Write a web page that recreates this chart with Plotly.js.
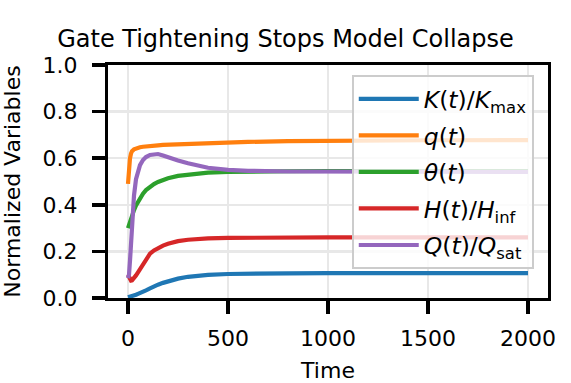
<!DOCTYPE html>
<html>
<head>
<meta charset="utf-8">
<script src="https://cdn.plot.ly/plotly-3.0.1.min.js"></script>
<style>html,body{margin:0;padding:0;background:#fff;}#chart{width:571px;height:383px;}</style>
</head>
<body>
<div id="chart"></div>
<script>
const time = [0, 5, 10, 15, 20, 30, 40, 50, 60, 75, 90, 110, 130, 150, 175, 200, 250, 300, 350, 400, 500, 600, 800, 1000, 1250, 1500, 2000];
const K_norm = [0.003, 0.004, 0.005, 0.007, 0.008, 0.011, 0.014, 0.018, 0.021, 0.027, 0.033, 0.041, 0.050, 0.057, 0.065, 0.072, 0.083, 0.091, 0.096, 0.099, 0.103, 0.105, 0.106, 0.107, 0.107, 0.107, 0.107];
const q_vals = [0.49, 0.56, 0.60, 0.62, 0.63, 0.638, 0.642, 0.645, 0.647, 0.649, 0.651, 0.653, 0.654, 0.655, 0.657, 0.658, 0.660, 0.662, 0.664, 0.666, 0.668, 0.670, 0.673, 0.675, 0.676, 0.677, 0.678];
const theta_vals = [0.30, 0.315, 0.33, 0.343, 0.355, 0.377, 0.397, 0.414, 0.43, 0.448, 0.463, 0.478, 0.489, 0.498, 0.507, 0.514, 0.524, 0.530, 0.535, 0.538, 0.541, 0.543, 0.544, 0.545, 0.545, 0.545, 0.545];
const H_norm = [0.10, 0.088, 0.079, 0.075, 0.076, 0.085, 0.097, 0.11, 0.123, 0.143, 0.163, 0.19, 0.204, 0.214, 0.225, 0.233, 0.244, 0.25, 0.254, 0.256, 0.258, 0.259, 0.26, 0.26, 0.26, 0.26, 0.26];
const Q_norm = [0.085, 0.10, 0.16, 0.25, 0.32, 0.44, 0.51, 0.545, 0.57, 0.592, 0.605, 0.614, 0.618, 0.618, 0.612, 0.604, 0.59, 0.578, 0.567, 0.559, 0.55, 0.546, 0.543, 0.542, 0.541, 0.541, 0.541];

const seriesNames = ['<i>K</i>(<i>t</i>)/<i>K</i><sub>max</sub>', '<i>q</i>(<i>t</i>)', '<i>θ</i>(<i>t</i>)', '<i>H</i>(<i>t</i>)/<i>H</i><sub>inf</sub>', '<i>Q</i>(<i>t</i>)/<i>Q</i><sub>sat</sub>'];
const seriesData = [K_norm, q_vals, theta_vals, H_norm, Q_norm];
const colors = ['#1f77b4', '#ff7f0e', '#2ca02c', '#d62728', '#9467bd'];

const traces = seriesData.map((ys, i) => ({
  x: time, y: ys, name: seriesNames[i], type: 'scatter', mode: 'lines',
  legendgroup: 'g' + i,
  line: {color: colors[i], width: 4.2}
}));

const font = {family: 'DejaVu Sans', color: '#000'};
const layout = {
  width: 571, height: 383,
  margin: {l: 108, r: 23, t: 65, b: 85},
  paper_bgcolor: '#fff', plot_bgcolor: '#fff',
  font: Object.assign({size: 22}, font),
  title: {text: 'Gate Tightening Stops Model Collapse', font: Object.assign({size: 24}, font),
          xref: 'container', x: 0.5, xanchor: 'center', yref: 'container', y: 0.9, yanchor: 'middle'},
  xaxis: {
    range: [-100, 2100], tickvals: [0, 500, 1000, 1500, 2000],
    showline: true, linecolor: '#000', linewidth: 3, mirror: true,
    ticks: 'outside', ticklen: 13, tickwidth: 3.5, tickcolor: '#000',
    ticklabelstandoff: 6,
    showgrid: true, gridcolor: '#e8e8e8', gridwidth: 2.5, zeroline: false,
    tickfont: Object.assign({size: 22}, font),
    title: {text: 'Time', font: Object.assign({size: 22}, font), standoff: 33}
  },
  yaxis: {
    range: [0, 1], tickvals: [0, 0.2, 0.4, 0.6, 0.8, 1.0], tickformat: '.1f',
    showline: true, linecolor: '#000', linewidth: 3, mirror: true,
    ticks: 'outside', ticklen: 13, tickwidth: 3.5, tickcolor: '#000',
    ticklabelstandoff: 10,
    showgrid: true, gridcolor: '#e8e8e8', gridwidth: 2.5, zeroline: false,
    tickfont: Object.assign({size: 22}, font),
    title: {text: 'Normalized Variables', font: Object.assign({size: 22}, font), standoff: 16}
  },
  legend: {
    x: 0.554, y: 0.957, xanchor: 'left', yanchor: 'top',
    bgcolor: 'rgba(255,255,255,0.8)', bordercolor: '#cccccc', borderwidth: 2,
    font: Object.assign({size: 23.5}, font), itemwidth: 60, tracegroupgap: 3,
    entrywidth: 115, entrywidthmode: 'pixels'
  },
  showlegend: true
};

Plotly.newPlot('chart', traces, layout, {staticPlot: true, displayModeBar: false});
</script>
</body>
</html>
